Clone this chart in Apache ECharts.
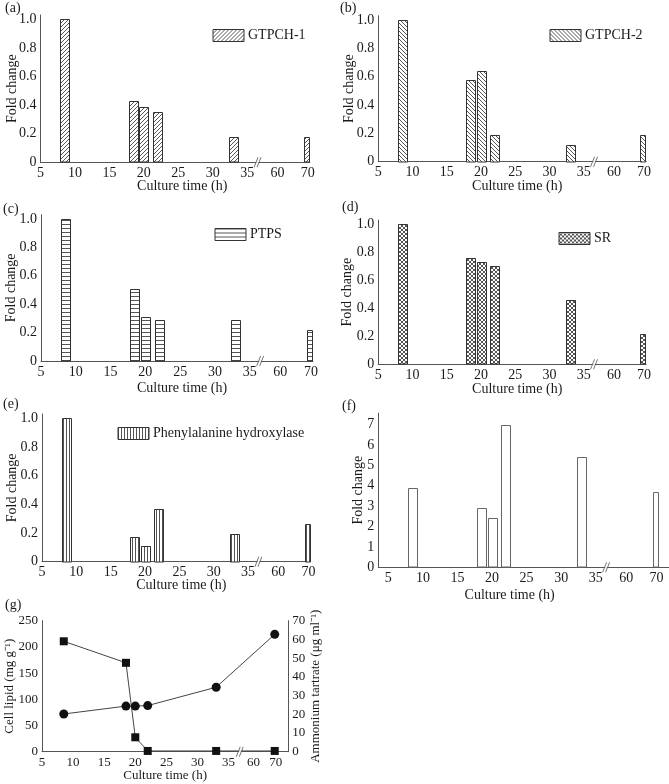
<!DOCTYPE html>
<html><head><meta charset="utf-8">
<script src="https://cdn.jsdelivr.net/npm/echarts@6/dist/echarts.min.js"></script>
<style>html,body{margin:0;padding:0;background:#fff}#c{width:669px;height:784px}</style>
</head><body><div id="c"></div>
<script>
// ---------------- data ----------------
const cultureTime = [8.5, 18.5, 20, 22, 33, 69.5];           // h
const gtpch1 = [1.0, 0.43, 0.39, 0.35, 0.175, 0.18];
const gtpch2 = [1.0, 0.575, 0.64, 0.19, 0.12, 0.19];
const ptps   = [1.0, 0.51, 0.31, 0.29, 0.29, 0.22];
const sr     = [1.0, 0.76, 0.73, 0.705, 0.46, 0.215];
const pah    = [1.0, 0.175, 0.11, 0.365, 0.19, 0.265];
const panelF = [3.9, 2.9, 2.4, 7.0, 5.4, 3.7];
const cellLipid = [72, 87, 87, 88, 123, 224];                 // mg g-1
const ammoniumTartrate = [59, 47.5, 7.7, 0.4, 0.4, 0.4];      // ug ml-1
const xTickLabels = [5, 10, 15, 20, 25, 30, 35, 60, 70];
const foldTicks = [0, 0.2, 0.4, 0.6, 0.8, 1.0];
const fTicks = [0, 1, 2, 3, 4, 5, 6, 7];
const lipidTicks = [0, 50, 100, 150, 200, 250];
const tartrateTicks = [0, 10, 20, 30, 40, 50, 60, 70];

// ---------------- helpers ----------------
const FONT = '"Liberation Serif", "Times New Roman", serif';
const TXT = '#1a1a1a';
const AX = '#555';
// broken time axis: linear to 35 h, compressed after the break (60 h, 70 h)
function brk(t, b) { return t <= 35 ? t : b.p60 + (t - 60) * b.slope; }
const BRK_AF = {p60: 39.4, slope: 0.44};
const BRK_G = {p60: 39.0, slope: 0.36};

function makePattern(kind) {
  const s = kind === 'vert' ? 3 : 4;
  const c = document.createElement('canvas');
  c.width = s; c.height = s;
  const g = c.getContext('2d');
  g.fillStyle = '#fff'; g.fillRect(0, 0, s, s);
  g.fillStyle = '#555';
  for (let i = 0; i < s; i++) {
    if (kind === 'fwd' || kind === 'cross') g.fillRect(i, s - 1 - i, 1, 1);
    if (kind === 'back' || kind === 'cross') g.fillRect(i, i, 1, 1);
  }
  if (kind === 'horiz') g.fillRect(0, 0, s, 1);
  if (kind === 'vert') g.fillRect(0, 0, 1, s);
  return {image: c, repeat: 'repeat'};
}

const panels = [
  {letter: '(a)', lx: 5, ly: 9, name: 'GTPCH-1', values: gtpch1, pat: 'fwd',
   grid: {left: 40.5, top: 15, width: 269.4, height: 147.3}, xmin: 5, xmax: 44.1, ymax: 1.03, yTicks: foldTicks,
   yGap: 21, xGap: 17.5, xShift: 7, legend: {left: 212.5, top: 28.5}},
  {letter: '(b)', lx: 340, ly: 9, name: 'GTPCH-2', values: gtpch2, pat: 'back',
   grid: {left: 378.3, top: 15.7, width: 267.8, height: 146}, xmin: 5, xmax: 44.1, ymax: 1.03, yTicks: foldTicks,
   yGap: 22, xGap: 18, xShift: 5, legend: {left: 549.5, top: 28.5}},
  {letter: '(c)', lx: 3, ly: 210, name: 'PTPS', values: ptps, pat: 'horiz',
   grid: {left: 41, top: 214.7, width: 272, height: 146.3}, xmin: 5, xmax: 44.1, ymax: 1.03, yTicks: foldTicks,
   yGap: 23, xGap: 20, xShift: 5, legend: {left: 214.5, top: 227.5}},
  {letter: '(d)', lx: 342, ly: 208.5, name: 'SR', values: sr, pat: 'cross',
   grid: {left: 378.3, top: 220.1, width: 267.8, height: 144.2}, xmin: 5, xmax: 44.1, ymax: 1.03, yTicks: foldTicks,
   yGap: 24, xGap: 18.5, xShift: 5, legend: {left: 558.5, top: 231.5}},
  {letter: '(e)', lx: 3, ly: 405, name: 'Phenylalanine hydroxylase', values: pah, pat: 'vert',
   grid: {left: 42, top: 414, width: 268.6, height: 147.7}, xmin: 5, xmax: 44.1, ymax: 1.03, yTicks: foldTicks,
   yGap: 23, xGap: 16.5, xShift: 5, legend: {left: 117.5, top: 426.5}},
  {letter: '(f)', lx: 342, ly: 407, name: 'Fold change (f)', values: panelF, pat: 'none',
   grid: {left: 378.3, top: 413, width: 290.7, height: 154.3}, xmin: 3.55, xmax: 45.6, ymax: 7.57, yTicks: fTicks,
   yGap: 13, xGap: 21, xShift: -14, legend: null}
];

function xLabelFmt(b) {
  const pos = xTickLabels.map(t => brk(t, b));
  return v => {
    for (let i = 0; i < pos.length; i++) if (Math.abs(pos[i] - v) < 1e-6) return String(xTickLabels[i]);
    return '';
  };
}

function xAxisFor(gi, min, max, b, gap, shift, fs) {
  return {
    gridIndex: gi, type: 'value', min: min, max: max,
    axisLine: {show: true, onZero: false, lineStyle: {color: AX, width: 1}},
    axisTick: {show: false}, splitLine: {show: false},
    axisLabel: {customValues: xTickLabels.map(t => brk(t, b)), formatter: xLabelFmt(b),
      margin: 4, color: TXT, fontFamily: FONT, fontSize: fs},
    name: 'Culture time (h)', nameLocation: 'middle', nameGap: gap, nameMoveOverlap: false,
    nameTextStyle: {color: TXT, fontFamily: FONT, fontSize: fs,
      padding: shift >= 0 ? [0, 0, 0, 2 * shift] : [0, -2 * shift, 0, 0]}
  };
}

function barRender(params, api) {
  const x = api.value(0), y = api.value(1);
  const p = api.coord([x, y]);
  const b = api.coord([x, 0]);
  const last = params.dataIndex === cultureTime.length - 1;
  const w = last ? 5 : 9;
  const x0 = Math.round(p[0] - w / 2) + 0.5;
  const y0 = Math.round(p[1]) + 0.5;
  return {type: 'rect', shape: {x: x0, y: y0, width: w, height: Math.round(b[1]) - y0},
    style: api.style()};
}

const grids = [], xAxes = [], yAxes = [], series = [], legends = [], graphics = [];

panels.forEach((pn, i) => {
  grids.push(Object.assign({containLabel: false}, pn.grid));
  xAxes.push(xAxisFor(i, pn.xmin, pn.xmax, BRK_AF, pn.xGap, pn.xShift, 14));
  yAxes.push({
    gridIndex: i, type: 'value', min: 0, max: pn.ymax,
    axisLine: {show: true, lineStyle: {color: AX, width: 1}},
    axisTick: {show: false}, splitLine: {show: false},
    axisLabel: {customValues: pn.yTicks, margin: 4, color: TXT, fontFamily: FONT, fontSize: 14,
      formatter: v => (pn.ymax < 2 ? (v === 0 ? '0' : v.toFixed(1)) : String(v))},
    name: 'Fold change', nameLocation: 'middle', nameGap: pn.yGap, nameRotate: 90, nameMoveOverlap: false,
    nameTextStyle: {color: TXT, fontFamily: FONT, fontSize: 14}
  });
  series.push({
    type: 'custom', name: pn.name, xAxisIndex: i, yAxisIndex: i,
    renderItem: barRender,
    itemStyle: {color: pn.pat === 'none' ? '#fff' : makePattern(pn.pat),
      borderColor: pn.pat === 'none' ? '#666' : '#333', borderWidth: 1},
    encode: {x: 0, y: 1},
    data: cultureTime.map((t, k) => [brk(t, BRK_AF), pn.values[k]]),
    z: 3
  });
  // axis-break mark
  series.push({type: 'scatter', xAxisIndex: i, yAxisIndex: i, silent: true, z: 5,
    symbol: 'path://M0,10 L4,0 L7,0 L3,10 Z', symbolSize: [7, 10],
    itemStyle: {color: '#fff', borderWidth: 0}, data: [[36.5, 0]]});
  series.push({type: 'scatter', xAxisIndex: i, yAxisIndex: i, silent: true, z: 6,
    symbol: 'path://M0,10 L4,0 M3,10 L7,0', symbolSize: [7, 10],
    itemStyle: {color: 'none', borderColor: '#444', borderWidth: 1}, data: [[36.5, 0]]});
  if (pn.legend) {
    legends.push({data: [pn.name], left: pn.legend.left, top: pn.legend.top, padding: 0,
      icon: 'rect', itemWidth: 31, itemHeight: 12, selectedMode: false,
      itemStyle: {borderWidth: 1, borderColor: '#333'},
      textStyle: {color: TXT, fontFamily: FONT, fontSize: 14, padding: [0, 0, 0, -1]}});
  }
  graphics.push({type: 'text', left: pn.lx, top: pn.ly - 8,
    style: {text: pn.letter, font: '14px ' + FONT, fill: TXT}});
});

// panel (g)
const gi = panels.length;
grids.push({left: 42, top: 620.7, width: 246.3, height: 131});
xAxes.push(xAxisFor(gi, 5, 44.6, BRK_G, 17.5, 0, 13));
yAxes.push({
  gridIndex: gi, type: 'value', min: 0, max: 250, position: 'left',
  axisLine: {show: true, lineStyle: {color: AX, width: 1}},
  axisTick: {show: false}, splitLine: {show: false},
  axisLabel: {customValues: lipidTicks, margin: 4, color: TXT, fontFamily: FONT, fontSize: 13},
  name: 'Cell lipid (mg g\u207B\u00B9)', nameLocation: 'middle', nameGap: 26, nameRotate: 90, nameMoveOverlap: false,
  nameTextStyle: {color: TXT, fontFamily: FONT, fontSize: 13}
});
yAxes.push({
  gridIndex: gi, type: 'value', min: 0, max: 70, position: 'right',
  axisLine: {show: true, lineStyle: {color: AX, width: 1}},
  axisTick: {show: false}, splitLine: {show: false},
  axisLabel: {customValues: tartrateTicks, margin: 4, color: TXT, fontFamily: FONT, fontSize: 13},
  name: 'Ammonium tartrate (\u03BCg ml\u207B\u00B9)', nameLocation: 'middle', nameGap: 21, nameRotate: 90, nameMoveOverlap: false,
  nameTextStyle: {color: TXT, fontFamily: FONT, fontSize: 13}
});
const yL = yAxes.length - 2, yR = yAxes.length - 1;
series.push({type: 'line', name: 'Cell lipid', xAxisIndex: gi, yAxisIndex: yL, z: 4,
  symbol: 'circle', symbolSize: 9, itemStyle: {color: '#111'},
  lineStyle: {color: '#444', width: 1},
  data: cultureTime.map((t, k) => [brk(t, BRK_G), cellLipid[k]])});
series.push({type: 'line', name: 'Ammonium tartrate', xAxisIndex: gi, yAxisIndex: yR, z: 4,
  symbol: 'rect', symbolSize: 8, itemStyle: {color: '#111'},
  lineStyle: {color: '#444', width: 1},
  data: cultureTime.map((t, k) => [brk(t, BRK_G), ammoniumTartrate[k]])});
series.push({type: 'scatter', xAxisIndex: gi, yAxisIndex: yL, silent: true, z: 5,
  symbol: 'path://M0,10 L4,0 L7,0 L3,10 Z', symbolSize: [7, 10],
  itemStyle: {color: '#fff', borderWidth: 0}, data: [[36.8, 0]]});
series.push({type: 'scatter', xAxisIndex: gi, yAxisIndex: yL, silent: true, z: 6,
  symbol: 'path://M0,10 L4,0 M3,10 L7,0', symbolSize: [7, 10],
  itemStyle: {color: 'none', borderColor: '#444', borderWidth: 1}, data: [[36.8, 0]]});
graphics.push({type: 'text', left: 5, top: 606.7 - 8,
  style: {text: '(g)', font: '14px ' + FONT, fill: TXT}});

const chart = echarts.init(document.getElementById('c'), null, {renderer: 'canvas', width: 669, height: 784});
chart.setOption({
  animation: false,
  backgroundColor: '#fff',
  grid: grids, xAxis: xAxes, yAxis: yAxes, series: series, legend: legends, graphic: graphics
});
</script></body></html>
